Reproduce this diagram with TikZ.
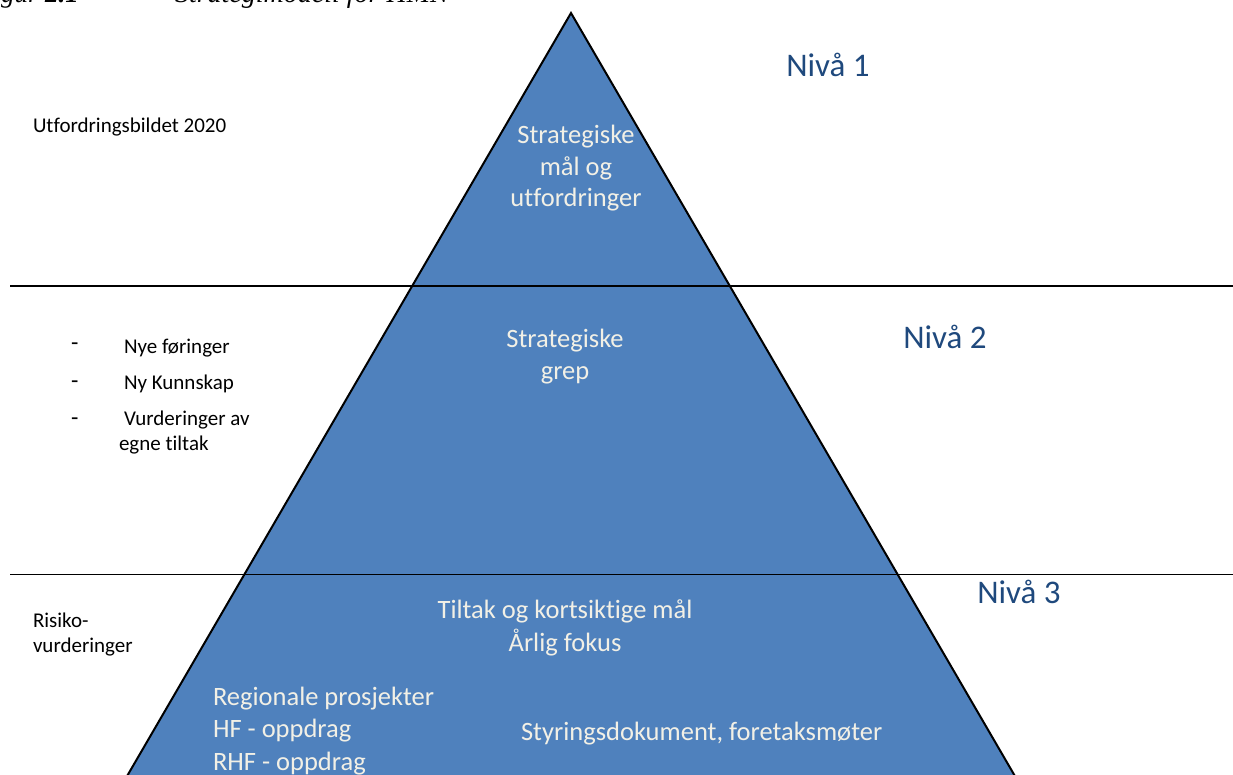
\documentclass[tikz,border=0pt]{standalone}
\usepackage{fontspec}
\setmainfont{Carlito}[RawFeature={-liga;-clig}]
\newfontfamily\captionfont{Liberation Serif}
\definecolor{triblue}{HTML}{4F81BD}
\definecolor{nivablue}{HTML}{1F497D}
\definecolor{lighttext}{HTML}{F2F0E6}
\begin{document}
\begin{tikzpicture}[x=1pt,y=-1pt,
  inner sep=0pt, outer sep=0pt,
  whitetext/.style={text=lighttext, font=\fontsize{26.5}{32}\selectfont, anchor=base},
  nivatext/.style={text=nivablue, font=\fontsize{33}{40}\selectfont, anchor=base},
  sidetext/.style={text=black, font=\fontsize{21}{25}\selectfont, anchor=base west},
  dashmark/.style={text=black, font=\fontsize{24}{28}\selectfont, anchor=base west},
  levelline/.style={draw=black, line width=1.5pt},
  pyramid/.style={fill=triblue, draw=black, line width=2pt, line join=miter}]
\useasboundingbox (0,0) rectangle (1233,774);
% caption (cut off at top)
\node[anchor=base east, font=\captionfont\fontsize{27}{30}\selectfont\itshape] (capnum) at (79,2.5) {Figur \textbf{2.1}};
\node[anchor=base west, font=\captionfont\fontsize{28}{30}\selectfont\itshape] (captxt) at (175,2.5) {Strategimodell for HMN};
% pyramid
\coordinate (apex) at (571,13);
\coordinate (bl) at (105,814);
\coordinate (br) at (1037,814);
\path[pyramid] (apex) -- (bl) -- (br) -- cycle;
% level lines
\coordinate (l1a) at (10,286);
\coordinate (l1b) at (1240,286);
\coordinate (l2a) at (10,574.5);
\coordinate (l2b) at (1240,574.5);
\draw[levelline] (l1a) -- (l1b);
\draw[levelline] (l2a) -- (l2b);
% level labels
\node[nivatext] (n1) at (828,76) {Nivå 1};
\node[nivatext] (n2) at (945,348) {Nivå 2};
\node[nivatext] (n3) at (1019,603) {Nivå 3};
% pyramid texts
\node[whitetext] (s1a) at (576,143) {Strategiske};
\node[whitetext] (s1b) at (576,175) {mål og};
\node[whitetext] (s1c) at (576,206.5) {utfordringer};
\node[whitetext] (s2a) at (565,347) {Strategiske};
\node[whitetext] (s2b) at (565,379.5) {grep};
\node[whitetext] (s3a) at (565,618) {Tiltak og kortsiktige mål};
\node[whitetext] (s3b) at (565,651) {Årlig fokus};
\node[whitetext, anchor=base west] (s4a) at (213,705) {Regionale prosjekter};
\node[whitetext, anchor=base west] (s4b) at (213,737.5) {HF - oppdrag};
\node[whitetext, anchor=base west] (s4c) at (213,770) {RHF - oppdrag};
\node[whitetext, anchor=base west] (s5) at (521,740) {Styringsdokument, foretaksmøter};
% side texts
\node[sidetext] (u1) at (33,132) {Utfordringsbildet 2020};
\node[dashmark] (d1) at (71,350) {-};
\node[sidetext] (b1) at (124,353) {Nye føringer};
\node[dashmark] (d2) at (71,388) {-};
\node[sidetext] (b2) at (124,389) {Ny Kunnskap};
\node[dashmark] (d3) at (71,425) {-};
\node[sidetext] (b3) at (124,425) {Vurderinger av};
\node[sidetext] (b4) at (119,450.5) {egne tiltak};
\node[sidetext] (r1) at (33,627) {Risiko-};
\node[sidetext] (r2) at (33,652) {vurderinger};
\end{tikzpicture}
\end{document}
